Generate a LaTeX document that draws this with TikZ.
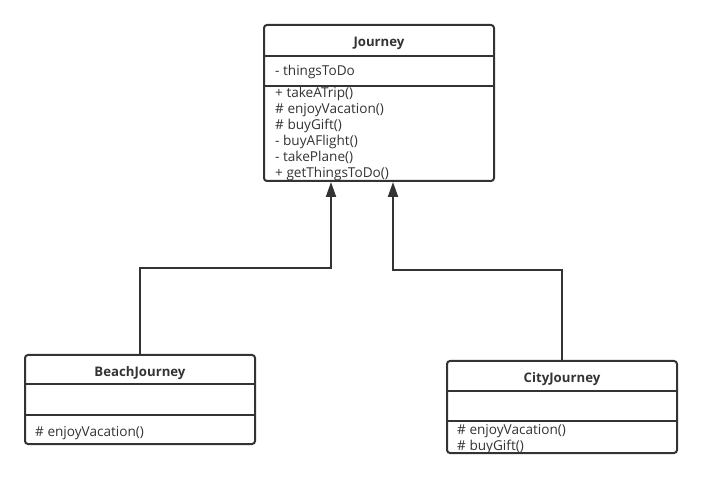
\documentclass[tikz,border=0pt]{standalone}
\usepackage{fontspec}
\setmainfont{Open Sans}
\usepackage{tikz}
\usetikzlibrary{positioning}
\usetikzlibrary{calc}
\usetikzlibrary{arrows.meta}
\definecolor{umlline}{HTML}{333333}
\tikzset{classbox/.style={draw=umlline,line width=2pt,rounded corners=3pt,minimum width=230pt,inner sep=0pt},
  member/.style={anchor=base west,inner sep=0pt,font=\fontsize{13.6}{15}\selectfont,text=umlline},
  classname/.style={anchor=base,inner sep=0pt,font=\fontsize{13.2}{15}\selectfont\bfseries,text=umlline},
  divider/.style={draw=umlline,line width=1.6pt},
  inherit/.style={draw=umlline,line width=2pt,-{Triangle[width=10pt,length=15pt]}}}

\begin{document}
\begin{tikzpicture}[x=1pt,y=-1pt]
\useasboundingbox (0,0) rectangle (702,478);

% parent class
\node (journey) at (379,103) [classbox,minimum height=156pt] {};
\node (jname) at (379,47) [classname] {Journey};
\draw [divider] (264,56) -- (494,56);
\draw [divider] (264,86) -- (494,86);
\node (jattr) at (275,76) [member] {- thingsToDo};
\node (jm1) at (275,98) [member] {+ takeATrip()};
\node (jm2) at (275,114) [member] {\# enjoyVacation()};
\node (jm3) at (275,130) [member] {\# buyGift()};
\node (jm4) at (275,146) [member] {- buyAFlight()};
\node (jm5) at (275,162) [member] {- takePlane()};
\node (jm6) at (275,178) [member] {+ getThingsToDo()};

% BeachJourney
\node (beach) at (140,399.5) [classbox,minimum height=89pt] {};
\node (bname) at (140,377) [classname] {BeachJourney};
\draw [divider] (25,384) -- (255,384);
\draw [divider] (25,415) -- (255,415);
\node (bm1) at (35,436) [member] {\# enjoyVacation()};

% CityJourney
\node (city) at (562,407) [classbox,minimum height=92pt] {};
\node (cname) at (562,383) [classname] {CityJourney};
\draw [divider] (447,391) -- (677,391);
\draw [divider] (447,421) -- (677,421);
\node (cm1) at (457,435) [member] {\# enjoyVacation()};
\node (cm2) at (457,450) [member] {\# buyGift()};

% generalisation
\coordinate (lbend) at (331,268);
\coordinate (rbend) at (393,270);
\draw [inherit] (beach.north) |- (lbend) -- (lbend |- journey.south);
\draw [inherit] (city.north) |- (rbend) -- (rbend |- journey.south);
\end{tikzpicture}
\end{document}
